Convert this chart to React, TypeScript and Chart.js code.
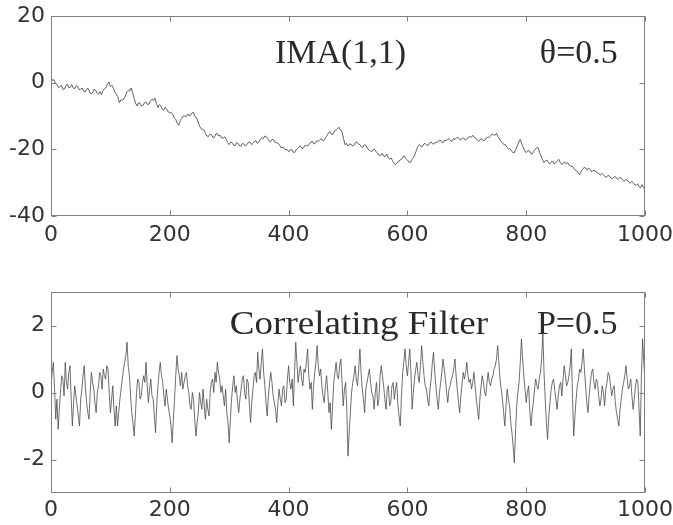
import { useEffect, useRef } from 'react';
import { Chart, registerables } from 'chart.js';
Chart.register(...registerables);

// ---------- data ----------
const xTicks = [0, 200, 400, 600, 800, 1000];
const topYTicks = [-40, -20, 0, 20];
const bottomYTicks = [-2, 0, 2];

// IMA(1,1) readings every 5 samples (x = 0, 5, ..., 1000)
const TOP_STEP = 5;
const imaValues = [
  0, 0.8, -0.5, -1.2, -2, -1.0, -1.5, -0.6, -1.8, -1.2,
  -2.0, -2.6, -1.9, -2.8, -3.0, -2.2, -3.4, -3.6, -1.8, -0.4,
  -1.2, -1.6, -3.5, -6.0, -5.2, -4.0, -2.4, -1.6, -4.8, -7.0,
  -6.2, -6.8, -5.8, -6.4, -5.0, -4.6, -7.5, -7.0, -8.2, -8.0,
  -9.0, -9.6, -11.0, -12.8, -10.8, -10.0, -9.4, -9.8, -9.0, -10.5,
  -13.0, -14.0, -15.2, -16.2, -15.6, -16.4, -15.2, -15.8, -16.6, -17.0,
  -18.6, -18.0, -18.8, -18.2, -19.0, -18.4, -18.6, -17.8, -18.2, -17.4,
  -17.8, -16.6, -16.0, -16.8, -17.6, -17.2, -18.0, -18.8, -19.4, -20.2,
  -20.7, -20.0, -21.0, -19.8, -19.0, -19.6, -18.8, -18.4, -17.6, -18.2,
  -17.6, -16.8, -17.2, -15.8, -14.7, -15.4, -14.2, -13.4, -14.8, -18.6,
  -19.0, -18.4, -18.8, -17.8, -18.6, -19.4, -18.8, -20.2, -20.7, -20.0,
  -21.2, -21.8, -22.0, -21.4, -23.0, -23.4, -24.6, -23.8, -23.0, -22.0,
  -23.2, -24.0, -22.6, -20.4, -18.6, -19.2, -18.2, -18.8, -17.8, -18.4,
  -18.0, -17.2, -18.0, -17.4, -16.8, -17.6, -17.0, -16.4, -17.2, -16.6,
  -17.0, -16.2, -15.8, -16.6, -17.6, -16.8, -17.4, -16.4, -16.0, -15.6,
  -15.2, -16.8, -18.0, -18.6, -19.8, -20.4, -21.0, -19.0, -17.0, -19.4,
  -21.0, -20.4, -21.4, -20.0, -19.4, -22.0, -24.0, -23.2, -24.4, -23.6,
  -24.0, -23.0, -24.6, -23.8, -24.0, -25.0, -25.6, -26.4, -27.6, -26.0,
  -25.6, -25.6, -26.8, -26.2, -27.0, -27.8, -27.6, -28.4, -28.0, -28.8,
  -28.2, -29.0, -28.6, -29.6, -29.2, -30.2, -30.0, -30.8, -31.2, -30.6,
  -32.0,
];
// IMA(1,1) jitter readings half-way between (x = 2.5, 7.5, ..., 997.5)
const imaMidValues = [
  0.9, -0.2, -1.5, -0.8, -1.9, -0.4, -1.4, -1.6, -0.9, -2.1,
  -1.6, -2.8, -1.7, -3.4, -2.0, -3.1, -2.7, -2.4, -1.5, 0.2,
  -0.8, -2.8, -4.2, -5.2, -5.0, -2.8, -2.5, -3.0, -6.2, -6.0,
  -7.0, -6.0, -6.6, -5.4, -5.3, -6.2, -6.6, -8.0, -7.4, -8.8,
  -9.0, -10.6, -12.2, -11.4, -10.0, -10.2, -10.0, -9.0, -10.2, -11.8,
  -13.8, -14.2, -16.0, -15.4, -16.4, -15.4, -16.0, -16.6, -16.2, -18.0,
  -17.8, -18.8, -18.0, -19.0, -18.2, -19.0, -17.8, -18.6, -17.6, -18.2,
  -17.0, -16.8, -16.2, -17.6, -17.0, -18.0, -18.2, -19.6, -19.6, -20.0,
  -20.2, -20.8, -20.2, -19.2, -19.8, -18.8, -19.0, -17.8, -18.4, -17.4,
  -17.2, -17.4, -16.4, -15.0, -15.6, -14.4, -13.8, -14.2, -16.8, -18.2,
  -18.4, -19.0, -18.0, -18.4, -19.2, -18.6, -19.6, -20.4, -20.0, -20.8,
  -21.8, -21.2, -22.2, -22.4, -22.6, -24.2, -24.0, -23.2, -22.2, -22.8,
  -23.8, -23.0, -21.6, -19.2, -19.0, -18.4, -18.8, -18.0, -18.4, -17.8,
  -17.4, -17.8, -17.2, -17.0, -17.4, -16.8, -16.6, -17.0, -16.6, -17.2,
  -16.4, -16.4, -16.4, -17.2, -17.0, -17.4, -16.6, -16.4, -15.4, -15.8,
  -16.2, -17.6, -18.6, -19.4, -19.8, -21.0, -20.0, -17.8, -18.4, -20.4,
  -20.4, -21.2, -20.6, -19.6, -21.0, -23.2, -23.4, -24.0, -23.6, -24.4,
  -23.4, -24.0, -24.0, -24.4, -24.8, -25.0, -26.2, -27.2, -26.6, -25.4,
  -26.2, -26.0, -26.4, -26.8, -27.2, -27.2, -28.2, -27.8, -28.6, -28.4,
  -28.8, -28.4, -29.2, -29.0, -29.8, -29.6, -30.6, -30.4, -31.6, -31.4,
];

// Correlating filter readings every 4 samples (x = 0, 4, ..., 1000)
const BOTTOM_STEP = 4;
const filterValues = [
  0.2, 0.9, -0.8, -1.1, 0.0, 0.4, 0.9, 0.1, 0.8, -1.0,
  0.2, -0.4, -1.0, 0.1, 0.8, -0.3, -0.8, 0.6, 0.1, -0.6,
  0.2, 0.5, 0.7, 0.4, 0.7, -0.6, 0.2, -1.0, -1.0, -0.2,
  0.4, 0.9, 1.5, 0.5, -0.6, -1.3, 0.0, 0.3, -0.1, 0.5,
  0.9, -0.3, 0.4, -0.2, -1.2, 0.2, 0.9, 0.3, -0.4, -0.2,
  -0.7, -1.5, -0.2, 1.1, 0.5, 0.6, 0.3, 0.6, 0.0, -0.5,
  -0.2, -1.3, -0.6, -0.3, 0.1, -0.8, -0.5, 0.0, 0.4, 0.6,
  0.9, 0.4, 0.2, -0.4, -0.6, -1.5, -0.2, 0.5, 0.2, -0.6,
  0.1, 0.5, -0.2, 0.3, -0.9, 0.1, 0.6, 1.2, 0.4, 1.3,
  0.2, -0.7, 0.3, 0.3, -0.3, -0.9, 0.1, -0.4, 0.2, -0.2,
  0.8, 0.1, -0.4, 1.5, 0.3, 0.8, 0.2, 0.6, 1.3, 0.1,
  -0.5, 0.6, 1.4, 0.5, 0.2, -0.3, 0.5, -0.6, -1.1, 0.3,
  0.9, 0.4, 1.0, -0.4, 0.3, -1.9, -0.6, 0.3, 0.8, 0.2,
  1.3, 0.1, -0.6, 0.3, 0.7, 0.0, -0.5, 0.3, -0.2, 0.8,
  0.2, -0.5, 0.2, -0.3, 0.3, 0.1, -0.4, -1.0, 0.6, 1.3,
  0.5, 1.3, -0.5, 0.4, 0.9, 0.3, 1.4, 0.5, 0.1, -0.4,
  0.4, 1.2, 0.2, -0.5, 0.3, 1.0, 0.4, -0.3, 0.2, 0.5,
  1.0, 0.1, -0.6, 0.3, 0.4, 0.9, 0.3, 0.1, 0.6, -0.2,
  -0.8, 0.2, 0.3, -0.1, 0.6, 0.2, 0.5, 0.8, 1.4, 0.4,
  -0.2, -1.0, 0.1, -0.4, -1.2, -2.1, -0.4, 0.3, 1.6, 0.5,
  -0.3, 0.2, -1.0, -0.3, 0.4, 0.1, 0.6, 1.8, -0.2, -1.4,
  -0.3, 0.3, 0.1, -0.5, 0.2, -0.1, 0.8, 0.2, 0.5, 1.3,
  -1.3, -0.2, 0.4, 0.6, 1.3, 0.2, -0.6, 0.3, 0.7, 0.1,
  0.3, -0.4, 0.2, -0.4, 0.3, 0.5, -0.1, 0.2, -0.6, -1.0,
  -0.2, 0.3, 0.8, 0.1, 0.4, -0.5, 0.2, 0.3, -1.3, 1.6,
  0.3,
];
// Correlating filter readings half-way between (x = 2, 6, ..., 998)
const filterMidValues = [
  0.6, 0.1, -0.2, -0.5, 0.5, -0.1, 0.3, 0.6, -0.2, -0.3,
  -0.1, -0.7, -0.2, 0.5, 0.1, -0.6, 0.0, 0.3, -0.3, 0.0,
  0.6, 0.1, 0.5, 0.8, 0.0, -0.2, -0.5, -0.4, -0.6, 0.1,
  0.7, 1.1, 0.8, -0.1, -0.9, -0.7, 0.4, -0.2, 0.3, 0.3,
  0.2, 0.1, -0.1, -0.7, -0.4, 0.6, 0.5, -0.1, 0.1, -0.5,
  -1.0, -0.8, 0.5, 0.7, 0.2, 0.1, 0.5, 0.2, -0.4, 0.0,
  -0.8, -0.9, 0.0, -0.5, -0.4, -0.2, -0.7, 0.3, 0.0, 0.3,
  0.6, 0.0, -0.1, 0.1, -0.9, -0.8, 0.2, 0.0, -0.3, -0.2,
  0.4, 0.0, 0.4, -0.4, -0.3, 0.5, 0.3, 0.7, 0.9, 0.6,
  -0.3, -0.1, 0.6, -0.1, -0.5, -0.3, -0.2, 0.1, -0.3, 0.4,
  0.3, 0.4, 0.6, 0.9, 0.6, 0.4, 0.7, 0.9, 0.5, 0.3,
  0.2, 0.9, 0.8, 0.7, -0.1, 0.2, 0.0, -0.3, -0.4, 0.6,
  0.5, 0.8, 0.3, 0.1, -0.5, -1.2, 0.0, 0.5, 0.4, 0.7,
  0.6, -0.2, 0.1, 0.5, 0.3, -0.1, 0.0, -0.4, 0.5, 0.5,
  -0.2, 0.1, -0.4, 0.2, -0.2, 0.3, -0.7, -0.1, 0.9, 0.8,
  0.9, 0.6, 0.0, 0.7, 0.5, 0.8, 0.9, 0.2, -0.2, 0.1,
  0.9, 0.6, -0.2, 0.0, 0.6, 0.7, 0.0, 0.1, 0.4, 0.7,
  0.5, -0.3, -0.1, 0.6, 0.6, 0.5, 0.4, 0.3, 0.2, -0.5,
  -0.2, 0.5, 0.0, 0.3, 0.3, 0.4, 0.7, 1.0, 0.9, 0.1,
  -0.6, -0.4, -0.2, -0.9, -1.6, -1.2, 0.0, 0.9, 1.0, 0.1,
  0.0, -0.5, -0.6, 0.1, 0.2, 0.4, 1.0, 0.6, -0.9, -0.7,
  0.1, 0.4, -0.2, -0.1, 0.3, 0.4, 0.5, 0.3, 0.8, -0.2,
  -0.7, 0.2, 0.7, 0.9, 0.7, -0.3, -0.1, 0.6, 0.3, 0.4,
  -0.1, -0.2, 0.0, 0.1, 0.6, 0.2, 0.1, -0.3, -0.8, -0.5,
  0.1, 0.5, 0.4, 0.2, -0.1, -0.2, 0.4, -0.5, 0.5, 0.9,
];

// annotations (text, position in data units)
const topNotes = [
  { text: 'IMA(1,1)', x: 377, y: 6 },
  { text: 'θ=0.5', x: 823, y: 6 },
];
const bottomNotes = [
  { text: 'Correlating Filter', x: 301, y: 1.75 },
  { text: 'P=0.5', x: 818, y: 1.75 },
];

// ---------- styling ----------
const TICK_FONT = { family: '"DejaVu Sans", sans-serif', size: 22 };
const TICK_COLOR = '#333';
const TOP_LINE_COLOR = 'rgba(70,70,70,0.85)';
const BOTTOM_LINE_COLOR = 'rgba(75,75,75,0.8)';
const FRAME_COLOR = '#808080';
const NOTE_FONT = '34px "Liberation Serif", serif';
const NOTE_STRETCH: Record<string, number> = { 'Correlating Filter': 1.09 };

type Note = { text: string; x: number; y: number };

function interleave(main: number[], mid: number[], step: number) {
  const pts: { x: number; y: number }[] = [];
  main.forEach((v, i) => {
    pts.push({ x: i * step, y: v });
    if (i < mid.length) pts.push({ x: i * step + step / 2, y: mid[i] });
  });
  return pts;
}

function framePlugin(notes: Note[], yTicks: number[]) {
  return {
    id: 'frame',
    afterDraw(chart: any) {
      const { ctx, chartArea: a, scales } = chart;
      const xs = scales.x;
      const ys = scales.y;
      ctx.save();
      ctx.strokeStyle = FRAME_COLOR;
      ctx.lineWidth = 1;
      const L = Math.round(a.left) + 0.5;
      const R = Math.round(a.right) - 0.5;
      const T = Math.round(a.top) + 0.5;
      const B = Math.round(a.bottom) - 0.5;
      ctx.strokeRect(L, T, R - L, B - T);
      ctx.beginPath();
      xTicks.forEach((v) => {
        const p = Math.round(xs.getPixelForValue(v)) + 0.5;
        ctx.moveTo(p, B);
        ctx.lineTo(p, B - 5);
        ctx.moveTo(p, T);
        ctx.lineTo(p, T + 5);
      });
      yTicks.forEach((v) => {
        const p = Math.round(ys.getPixelForValue(v)) + 0.5;
        ctx.moveTo(L, p);
        ctx.lineTo(L + 5, p);
        ctx.moveTo(R, p);
        ctx.lineTo(R - 5, p);
      });
      ctx.stroke();
      ctx.fillStyle = '#2a2a2a';
      ctx.font = NOTE_FONT;
      ctx.textBaseline = 'alphabetic';
      ctx.textAlign = 'left';
      notes.forEach((n) => {
        ctx.save();
        ctx.translate(xs.getPixelForValue(n.x), ys.getPixelForValue(n.y));
        ctx.scale(NOTE_STRETCH[n.text] || 1, 1);
        ctx.fillText(n.text, 0, 0);
        ctx.restore();
      });
      ctx.restore();
    },
  };
}

function makeChart(
  canvas: HTMLCanvasElement,
  points: { x: number; y: number }[],
  color: string,
  yMin: number,
  yMax: number,
  yTicks: number[],
  notes: Note[],
  padTop: number,
  xAxisHeight: number,
  xPad: number
) {
  return new Chart(canvas, {
    type: 'line',
    data: {
      datasets: [
        {
          data: points,
          borderColor: color,
          borderWidth: 1,
          pointRadius: 0,
          tension: 0,
          fill: false,
        },
      ],
    },
    options: {
      responsive: false,
      animation: false,
      events: [],
      layout: { padding: { top: padTop, right: 28, left: 0, bottom: 0 } },
      plugins: { legend: { display: false }, tooltip: { enabled: false } },
      scales: {
        x: {
          type: 'linear',
          min: 0,
          max: 1000,
          afterBuildTicks: (s: any) => {
            s.ticks = xTicks.map((v) => ({ value: v }));
          },
          afterFit: (s: any) => {
            s.height = xAxisHeight;
            s.paddingLeft = 0;
            s.paddingRight = 0;
          },
          ticks: {
            autoSkip: false,
            maxRotation: 0,
            padding: xPad,
            font: TICK_FONT,
            color: TICK_COLOR,
            callback: (v: any) => String(v),
          },
          grid: { display: false, drawTicks: false },
          border: { display: false },
        },
        y: {
          type: 'linear',
          min: yMin,
          max: yMax,
          afterBuildTicks: (s: any) => {
            s.ticks = yTicks.map((v) => ({ value: v }));
          },
          afterFit: (s: any) => {
            s.width = 51;
            s.paddingTop = 0;
            s.paddingBottom = 0;
          },
          ticks: {
            autoSkip: false,
            padding: 6,
            font: TICK_FONT,
            color: TICK_COLOR,
            callback: (v: any) => String(v),
          },
          grid: { display: false, drawTicks: false },
          border: { display: false },
        },
      },
    },
    plugins: [framePlugin(notes, yTicks)],
  } as any);
}

export default function App() {
  const topRef = useRef<HTMLCanvasElement>(null);
  const botRef = useRef<HTMLCanvasElement>(null);

  useEffect(() => {
    const c1 = makeChart(
      topRef.current!,
      interleave(imaValues, imaMidValues, TOP_STEP),
      TOP_LINE_COLOR,
      -40, 20, topYTicks, topNotes, 16, 39, 6
    );
    const c2 = makeChart(
      botRef.current!,
      interleave(filterValues, filterMidValues, BOTTOM_STEP),
      BOTTOM_LINE_COLOR,
      -3, 3, bottomYTicks, bottomNotes, 37, 32, 4
    );
    return () => {
      c1.destroy();
      c2.destroy();
    };
  }, []);

  return (
    <div style={{ position: 'absolute', left: 0, top: 0, width: 673, height: 525, background: '#fff' }}>
      <canvas ref={topRef} width={673} height={255} style={{ position: 'absolute', left: 0, top: 0, display: 'block' }} />
      <canvas ref={botRef} width={673} height={270} style={{ position: 'absolute', left: 0, top: 255, display: 'block' }} />
    </div>
  );
}
